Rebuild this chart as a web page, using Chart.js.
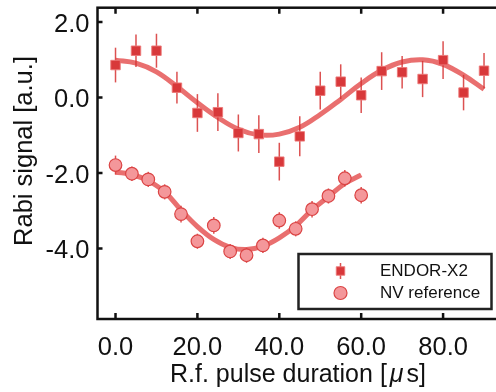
<!DOCTYPE html>
<html>
<head>
<meta charset="utf-8">
<script src="https://cdn.jsdelivr.net/npm/chart.js@4.4.0/dist/chart.umd.min.js"></script>
<style>
  html, body { margin: 0; padding: 0; background: #fff; overflow: hidden; }
  #wrap { width: 520px; height: 392px; position: relative; }
</style>
</head>
<body>
<div id="wrap"><canvas id="rabi"></canvas></div>
<script>
// ENDOR-X2 measurement (squares)
const endorX = [0, 5, 10, 15, 20, 25, 30, 35, 40, 45, 50, 55, 60, 65, 70, 75, 80, 85, 90];
const endorY = [0.86, 1.24, 1.24, 0.26, -0.41, -0.39, -0.94, -0.97, -1.70, -1.03, 0.18, 0.42, 0.06, 0.70, 0.67, 0.49, 0.99, 0.13, 0.71];
const endorErr = [0.46, 0.43, 0.45, 0.42, 0.50, 0.50, 0.49, 0.50, 0.50, 0.53, 0.50, 0.46, 0.47, 0.50, 0.43, 0.48, 0.50, 0.47, 0.47];

// ENDOR-X2 fit curve
const endorFitX = [0, 5, 10, 15, 20, 25, 30, 35, 40, 45, 50, 55, 60, 65, 70, 75, 80, 85, 90];
const endorFitY = [0.99, 0.91, 0.68, 0.29, -0.14, -0.53, -0.84, -0.99, -0.97, -0.79, -0.45, -0.05, 0.37, 0.72, 0.94, 1.00, 0.88, 0.59, 0.22];

// NV reference measurement (circles)
const nvX = [0, 4, 8, 12, 16, 20, 24, 28, 32, 36, 40, 44, 48, 52, 56, 60];
const nvY = [-1.79, -2.02, -2.17, -2.50, -3.09, -3.81, -3.39, -4.08, -4.18, -3.92, -3.26, -3.48, -2.96, -2.61, -2.14, -2.59];
const nvErr = [0.25, 0.19, 0.2, 0.2, 0.22, 0.2, 0.22, 0.2, 0.2, 0.2, 0.22, 0.2, 0.22, 0.2, 0.22, 0.22];

// NV reference fit curve
const nvFitX = [0, 4, 8, 12, 16, 20, 24, 28, 32, 36, 40, 44, 48, 52, 56, 60];
const nvFitY = [-1.98, -2.04, -2.21, -2.50, -2.98, -3.42, -3.76, -3.97, -4.03, -3.94, -3.72, -3.40, -2.98, -2.63, -2.28, -2.05];

const xTicks = [0, 20, 40, 60, 80];
const yTicks = [2, 0, -2, -4];

const FONT = "'Liberation Sans', Arial, sans-serif";
const INK = '#111';

const toPts = (xs, ys) => xs.map((x, i) => ({ x, y: ys[i] }));

// vertical error bars, drawn right before the markers they belong to
const errorBars = {
  id: 'errorBars',
  beforeDatasetDraw(chart, args) {
    const ds = chart.data.datasets[args.index];
    if (!ds.errors) return;
    const { x: sx, y: sy } = chart.scales;
    const ctx = chart.ctx;
    ctx.save();
    ctx.strokeStyle = ds.errorColor;
    ctx.lineWidth = 1.5;
    ds.data.forEach((p, i) => {
      const px = sx.getPixelForValue(p.x);
      ctx.beginPath();
      ctx.moveTo(px, sy.getPixelForValue(p.y - ds.errors[i]));
      ctx.lineTo(px, sy.getPixelForValue(p.y + ds.errors[i]));
      ctx.stroke();
    });
    ctx.restore();
  }
};

// box frame with inward tick marks
const frame = {
  id: 'frame',
  afterDatasetsDraw(chart) {
    const { ctx, chartArea: a } = chart;
    const { x: sx, y: sy } = chart.scales;
    ctx.save();
    ctx.strokeStyle = INK;
    ctx.lineWidth = 2.5;
    ctx.strokeRect(a.left, a.top, a.right - a.left, a.bottom - a.top);
    ctx.beginPath();
    xTicks.forEach(v => {
      const px = sx.getPixelForValue(v);
      ctx.moveTo(px, a.bottom); ctx.lineTo(px, a.bottom - 6);
      ctx.moveTo(px, a.top); ctx.lineTo(px, a.top + 6);
    });
    yTicks.forEach(v => {
      const py = sy.getPixelForValue(v);
      ctx.moveTo(a.left, py); ctx.lineTo(a.left + 5, py);
      ctx.moveTo(a.right, py); ctx.lineTo(a.right - 5, py);
    });
    ctx.stroke();
    ctx.restore();
  }
};

// axis titles (mu in italic) and the boxed legend
const annotate = {
  id: 'annotate',
  afterDraw(chart) {
    const { ctx } = chart;
    ctx.save();
    ctx.fillStyle = INK;
    ctx.textBaseline = 'alphabetic';

    // x title
    const parts = [['R.f. pulse duration [', '', 3], ['\u03bc', 'italic ', 3], ['s]', '', 0]];
    let total = 0;
    parts.forEach(([t, st, gap]) => { ctx.font = st + '25px ' + FONT; total += ctx.measureText(t).width + gap; });
    let x = 298 - total / 2;
    parts.forEach(([t, st, gap]) => {
      ctx.font = st + '25px ' + FONT;
      ctx.textAlign = 'left';
      ctx.fillText(t, x, 381.5);
      x += ctx.measureText(t).width + gap;
    });

    // y title
    ctx.translate(32, 151);
    ctx.rotate(-Math.PI / 2);
    ctx.font = '25.5px ' + FONT;
    ctx.textAlign = 'center';
    ctx.fillText('Rabi signal [a.u.]', 0, 0);
    ctx.setTransform(1, 0, 0, 1, 0, 0);

    // legend
    const box = { l: 298.5, t: 254, r: 491.5, b: 309 };
    ctx.fillStyle = '#fff';
    ctx.fillRect(box.l, box.t, box.r - box.l, box.b - box.t);
    ctx.strokeStyle = '#222';
    ctx.lineWidth = 2.5;
    ctx.strokeRect(box.l, box.t, box.r - box.l, box.b - box.t);

    const rows = [chart.data.datasets[1], chart.data.datasets[3]];
    const rowY = [271, 293];
    rows.forEach((ds, i) => {
      const mx = 340.5, my = rowY[i];
      if (ds.pointStyle === 'rect') {
        ctx.strokeStyle = ds.errorColor;
        ctx.lineWidth = 1.5;
        ctx.beginPath(); ctx.moveTo(mx, my - 8); ctx.lineTo(mx, my + 8); ctx.stroke();
      }
      ctx.fillStyle = ds.backgroundColor;
      ctx.strokeStyle = ds.borderColor;
      ctx.lineWidth = ds.borderWidth;
      Chart.helpers.drawPoint(ctx, { pointStyle: ds.pointStyle, radius: ds.pointStyle === 'rect' ? 6 : 6.5, rotation: 0, borderWidth: ds.borderWidth }, mx, my);
      ctx.fillStyle = INK;
      ctx.font = '17px ' + FONT;
      ctx.textAlign = 'left';
      ctx.textBaseline = 'middle';
      ctx.fillText(ds.label, 380, my);
    });
    ctx.restore();
  }
};

const noPad = s => { s.paddingTop = 0; s.paddingBottom = 0; s.paddingLeft = 0; s.paddingRight = 0; };

new Chart(document.getElementById('rabi'), {
  type: 'scatter',
  data: {
    datasets: [
      {
        label: 'ENDOR-X2 fit',
        data: toPts(endorFitX, endorFitY),
        showLine: true,
        pointRadius: 0,
        borderColor: 'rgba(229, 86, 86, 0.85)',
        borderWidth: 5,
        tension: 0.4,
        order: 4,
      },
      {
        label: 'ENDOR-X2',
        data: toPts(endorX, endorY),
        errors: endorErr,
        errorColor: 'rgba(214, 50, 50, 0.85)',
        pointStyle: 'rect',
        pointRadius: 6.7,
        backgroundColor: '#d8383a',
        borderColor: 'rgba(236, 120, 120, 0.9)',
        borderWidth: 1,
        order: 2,
      },
      {
        label: 'NV reference fit',
        data: toPts(nvFitX, nvFitY),
        showLine: true,
        pointRadius: 0,
        borderColor: 'rgba(229, 86, 86, 0.85)',
        borderWidth: 5,
        tension: 0.4,
        order: 3,
      },
      {
        label: 'NV reference',
        data: toPts(nvX, nvY),
        errors: nvErr,
        errorColor: 'rgba(218, 60, 60, 0.9)',
        pointStyle: 'circle',
        pointRadius: 6.3,
        backgroundColor: '#f4979a',
        borderColor: '#db4444',
        borderWidth: 1.2,
        order: 1,
      },
    ]
  },
  options: {
    responsive: true,
    maintainAspectRatio: false,
    animation: false,
    events: [],
    layout: { padding: { top: 5.5, right: 15.5, bottom: 0, left: 0 } },
    plugins: { legend: { display: false }, tooltip: { enabled: false } },
    scales: {
      x: {
        type: 'linear',
        min: -4.4,
        max: 95,
        grid: { display: false, drawTicks: false },
        border: { display: false },
        afterBuildTicks: s => { s.ticks = xTicks.map(v => ({ value: v })); },
        afterFit: s => { s.height = 73; noPad(s); },
        ticks: {
          font: { family: FONT, size: 25.5 },
          color: INK,
          padding: 14,
          maxRotation: 0,
          callback: v => Number(v).toFixed(1),
        },
      },
      y: {
        type: 'linear',
        min: -5.87,
        max: 2.38,
        grid: { display: false, drawTicks: false },
        border: { display: false },
        afterBuildTicks: s => { s.ticks = yTicks.map(v => ({ value: v })); },
        afterFit: s => { s.width = 97.5; noPad(s); },
        ticks: {
          font: { family: FONT, size: 25.5 },
          color: INK,
          padding: 8,
          labelOffset: 2.5,
          callback: v => Number(v).toFixed(1),
        },
      },
    },
  },
  plugins: [errorBars, frame, annotate],
});
</script>
</body>
</html>
